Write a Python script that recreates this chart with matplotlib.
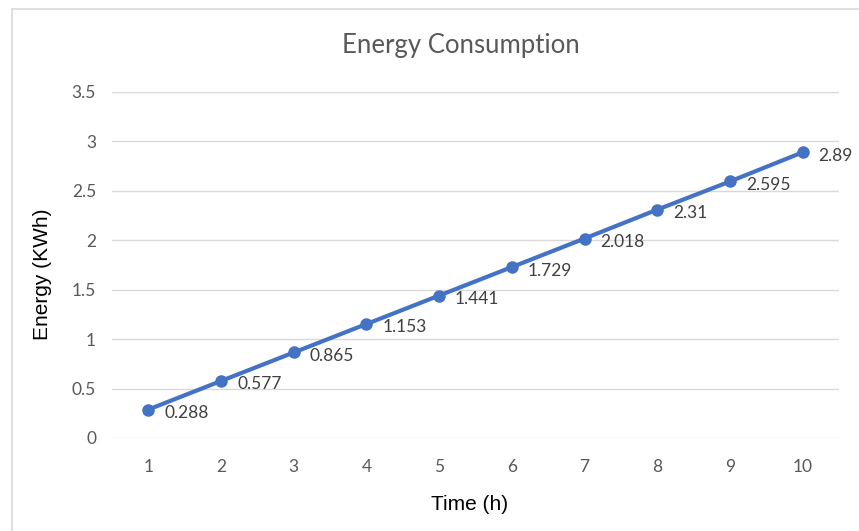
import matplotlib
matplotlib.use("Agg")
import matplotlib.pyplot as plt
from matplotlib.patches import Rectangle

hours = [1, 2, 3, 4, 5, 6, 7, 8, 9, 10]
energy = [0.288, 0.577, 0.865, 1.153, 1.441, 1.729, 2.018, 2.31, 2.595, 2.89]
labels = ["0.288", "0.577", "0.865", "1.153", "1.441", "1.729", "2.018", "2.31", "2.595", "2.89"]
yticks = [0, 0.5, 1, 1.5, 2, 2.5, 3, 3.5]
ytick_labels = ["0", "0.5", "1", "1.5", "2", "2.5", "3", "3.5"]

W, H = 859, 531
fig = plt.figure(figsize=(W / 100, H / 100), dpi=100)
fig.patch.set_facecolor("white")

# outer chart border (light gray)
fig.add_artist(Rectangle((12 / W, -0.1), 1.2, (H - 9) / H + 0.1, transform=fig.transFigure,
                         fill=False, edgecolor="#d9d9d9", linewidth=1.2))

ax = fig.add_axes([112 / W, 1 - 438 / H, (839 - 112) / W, (438 - 92) / H])
ax.set_facecolor("white")
ax.plot(hours, energy, color="#4472C4", linewidth=3.0, marker="o", markersize=8,
        solid_capstyle="round", zorder=3)
for x, y, t in zip(hours, energy, labels):
    ax.annotate(t, (x, y), xytext=(11.5, -2.5), textcoords="offset points",
                ha="left", va="center", fontsize=12.5, color="#404040", family="Lato")

ax.set_xlim(0.5, 10.5)
ax.set_ylim(0, 3.5)
ax.set_xticks(hours)
ax.set_xticklabels([str(h) for h in hours])
ax.set_yticks(yticks)
ax.set_yticklabels(ytick_labels)
ax.grid(axis="y", color="#d9d9d9", linewidth=1)
ax.set_axisbelow(True)
for s in ax.spines.values():
    s.set_visible(False)
ax.tick_params(axis="both", length=0, labelsize=12.5, labelcolor="#595959")
for lab in ax.get_xticklabels() + ax.get_yticklabels():
    lab.set_family("Lato")
ax.tick_params(axis="x", pad=15)
ax.tick_params(axis="y", pad=11.5)

fig.text(43 / W, 1 - 274 / H, "Energy (KWh)", rotation=90, ha="center", va="center",
         family="Liberation Sans", fontsize=15, color="black")
fig.text(470 / W, 1 - 505 / H, "Time (h)", ha="center", va="center",
         family="Liberation Sans", fontsize=15, color="black")
fig.text((344 + 578) / 2 / W, 1 - 45 / H, "Energy Consumption", ha="center", va="center",
         family="Lato", fontsize=18.5, color="#595959")

fig.savefig("out.png", dpi=100)
